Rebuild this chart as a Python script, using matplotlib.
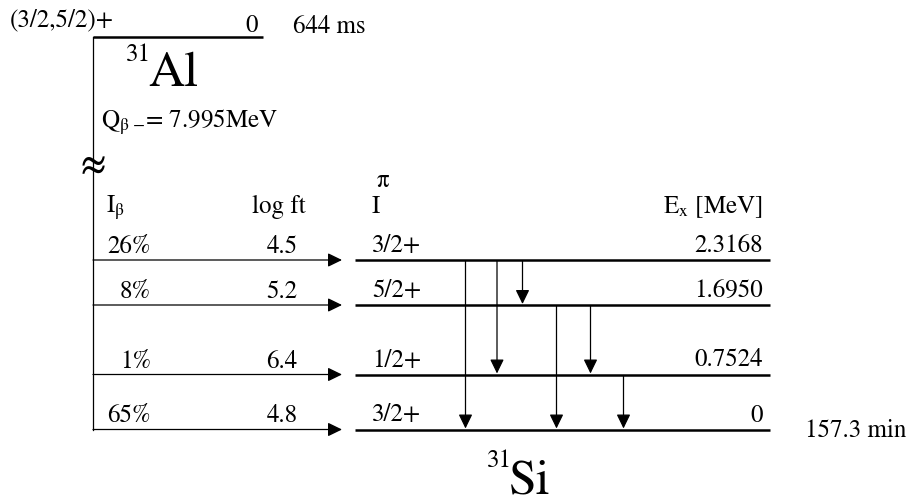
import matplotlib
matplotlib.use("Agg")
import matplotlib.pyplot as plt

plt.rcParams['font.family'] = ['STIXGeneral', 'DejaVu Serif']
plt.rcParams['mathtext.fontset'] = 'stix'

# ---- data ----
parent_spin = "(3/2,5/2)+"
parent_energy = "0"
parent_halflife = "644 ms"
q_value = "7.995MeV"
level_energies = ["2.3168", "1.6950", "0.7524", "0"]
level_spins = ["3/2+", "5/2+", "1/2+", "3/2+"]
beta_intensities = ["26%", "8%", "1%", "65%"]
log_ft = ["4.5", "5.2", "6.4", "4.8"]
daughter_halflife = "157.3 min"
# gamma transitions: (from level index, to level index)
gammas = [(0, 3), (0, 2), (0, 1), (1, 3), (1, 2), (2, 3)]

# ---- layout (pixel coordinates) ----
level_y = [260, 305, 374.5, 429.5]
gamma_x = [465.5, 497, 522.5, 556.5, 590.5, 623.5]
FS = 18

fig = plt.figure(figsize=(9.14, 5.04), dpi=100)
ax = fig.add_axes([0, 0, 1, 1])
ax.set_xlim(0, 914)
ax.set_ylim(504, 0)
ax.axis('off')

# parent level
ax.plot([93, 263], [37, 37], color='black', lw=1.8, solid_capstyle='butt')
ax.plot([93, 93], [37, level_y[-1]], color='black', lw=0.9)
ax.text(10, 26, parent_spin, fontsize=FS, va='baseline', ha='left')
ax.text(258, 32, parent_energy, fontsize=FS, va='baseline', ha='right')
ax.text(293, 33, parent_halflife, fontsize=FS, va='baseline', ha='left')
ax.text(126, 61, "31", fontsize=18, va='baseline', ha='left')
ax.text(148, 86, "Al", fontsize=36, va='baseline', ha='left')
ax.text(101, 128, r"Q$_{\mathregular{β}\ \mathregular{-}}$= " + q_value, fontsize=FS,
        va='baseline', ha='left')
ax.text(93, 167, "≈", fontsize=26, fontweight='bold', va='center', ha='center')

# header
ax.text(106, 213, r"I$_\mathregular{β}$", fontsize=FS, va='baseline', ha='left')
ax.text(279, 213, "log ft", fontsize=FS, va='baseline', ha='center')
ax.text(372, 213, "I", fontsize=FS, va='baseline', ha='left')
ax.text(377, 187, "π", fontsize=FS, va='baseline', ha='left')
ax.text(763, 213, r"E$_\mathregular{x}$ [MeV]", fontsize=FS, va='baseline', ha='right')

arrow_props = dict(arrowstyle='-|>,head_length=0.86,head_width=0.42',
                   mutation_scale=10, color='black', lw=0.9,
                   shrinkA=0, shrinkB=0)

for i, y in enumerate(level_y):
    ax.plot([355, 770], [y, y], color='black', lw=1.8, solid_capstyle='butt')
    ax.annotate("", xy=(342, y), xytext=(93, y), arrowprops=arrow_props)
    ax.text(151, y - 7, beta_intensities[i], fontsize=FS, va='baseline', ha='right')
    ax.text(282, y - 7, log_ft[i], fontsize=FS, va='baseline', ha='center')
    ax.text(372, y - 8, level_spins[i], fontsize=FS, va='baseline', ha='left')
    ax.text(763, y - 8, level_energies[i], fontsize=FS, va='baseline', ha='right')

for (a, b), x in zip(gammas, gamma_x):
    ax.annotate("", xy=(x, level_y[b] - 1), xytext=(x, level_y[a] + 1),
                arrowprops=arrow_props)

ax.text(805, 437, daughter_halflife, fontsize=FS, va='baseline', ha='left')
ax.text(487, 467, "31", fontsize=18, va='baseline', ha='left')
ax.text(509, 494, "Si", fontsize=36, va='baseline', ha='left')

fig.savefig("out.png", dpi=100)
